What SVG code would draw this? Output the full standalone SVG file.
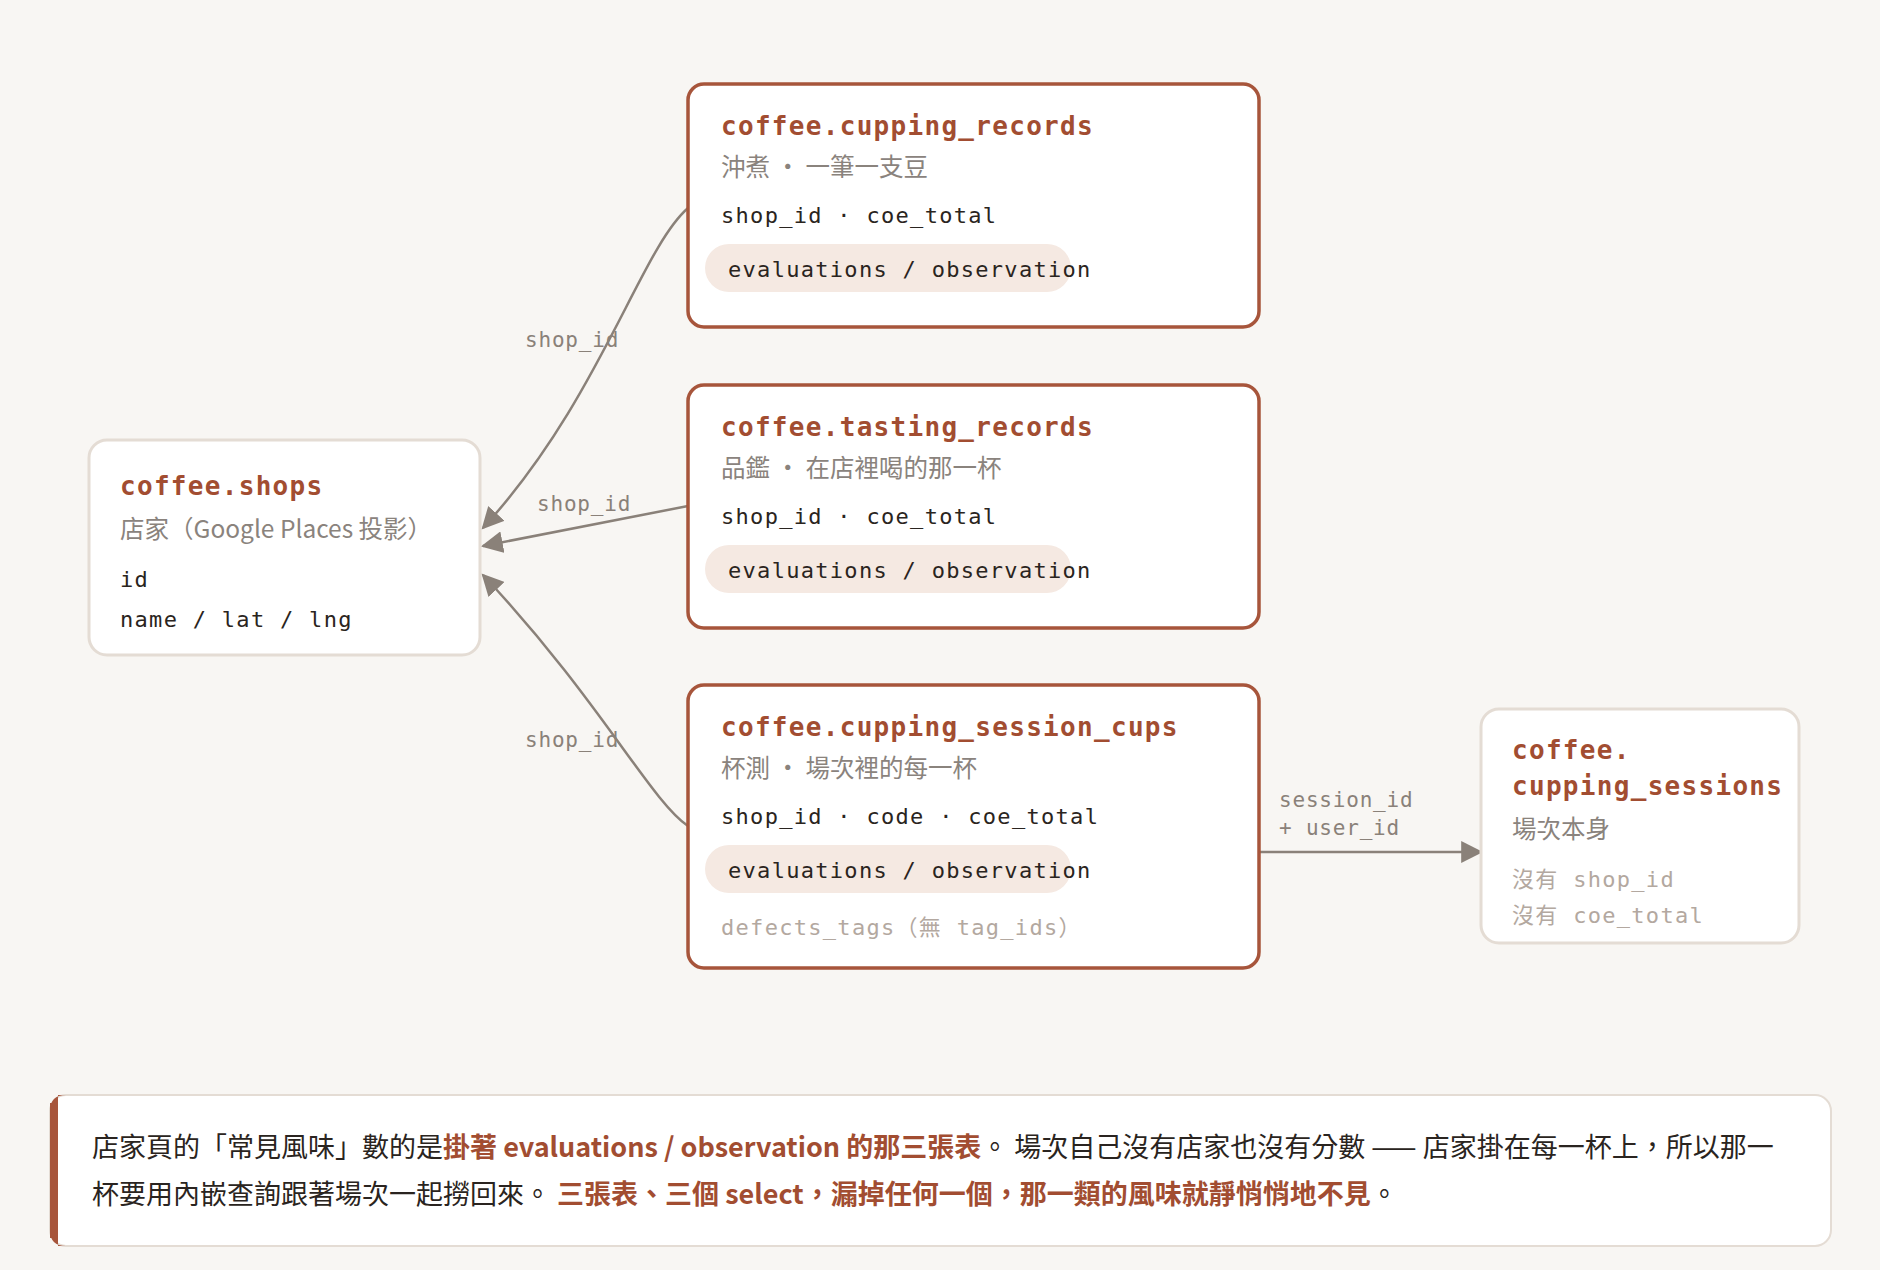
<svg xmlns="http://www.w3.org/2000/svg" width="1880" height="1270" viewBox="0 0 1880 1270">
<style>
.bg{fill:#f8f6f3}
.nb{fill:#fff;stroke:#a7553b;stroke-width:3.5}
.nl{fill:#fff;stroke:#e4dcd4;stroke-width:3}
.pill{fill:#f5e9e2}
.t{font-family:"DejaVu Sans Mono","Liberation Mono",monospace;font-weight:bold;font-size:26px;letter-spacing:1.3px;fill:#a24d31}
.s{font-family:"Noto Sans CJK TC","Noto Sans",sans-serif;font-size:24.5px;fill:#8a837d}
.f{font-family:"DejaVu Sans Mono","Liberation Mono",monospace;font-size:22px;letter-spacing:1.3px;fill:#2a2420}
.g{font-family:"DejaVu Sans Mono","Noto Sans CJK TC",monospace;font-size:22px;letter-spacing:1.3px;fill:#b3a8a0}
.e{fill:none;stroke:#8a8179;stroke-width:2.5}
.el{font-family:"DejaVu Sans Mono","Liberation Mono",monospace;font-size:21px;letter-spacing:0.8px;fill:#8a8179}
.n{font-family:"Noto Sans CJK TC","Noto Sans",sans-serif;font-size:27px;fill:#2a2420}
.h{fill:#a24d31;font-weight:bold}
</style>
<defs>
<marker id="b" viewBox="0 0 10 10" refX="9" refY="5" markerWidth="22" markerHeight="22" markerUnits="userSpaceOnUse" orient="auto"><path d="M0,0L10,5L0,10z" fill="#8a8179"/></marker>
</defs>
<rect class="bg" width="1880" height="1270"/>
<g id="connectors">
<path class="e" d="M688,208 C640,250 600,400 483,528" marker-end="url(#b)"/>
<path class="e" d="M688,506 L483,546" marker-end="url(#b)"/>
<path class="e" d="M688,826 C650,800 600,700 483,575" marker-end="url(#b)"/>
<path class="e" d="M1259,852 L1481,852" marker-end="url(#b)"/>
<text class="el" x="525" y="347">shop_id</text>
<text class="el" x="537" y="511">shop_id</text>
<text class="el" x="525" y="747">shop_id</text>
<text class="el" x="1279" y="807">session_id</text>
<text class="el" x="1279" y="835">+ user_id</text>
</g>
<g id="cupping_records">
<rect class="nb" x="688" y="84" width="571" height="243" rx="16"/>
<text class="t" x="721" y="135">coffee.cupping_records</text>
<text class="s" x="721" y="176">沖煮 ・ 一筆一支豆</text>
<text class="f" x="721" y="223">shop_id · coe_total</text>
<rect class="pill" x="705" y="244" width="366" height="48" rx="24"/>
<text class="f" x="728" y="277">evaluations / observation</text>
</g>
<g id="tasting_records">
<rect class="nb" x="688" y="385" width="571" height="243" rx="16"/>
<text class="t" x="721" y="436">coffee.tasting_records</text>
<text class="s" x="721" y="477">品鑑 ・ 在店裡喝的那一杯</text>
<text class="f" x="721" y="524">shop_id · coe_total</text>
<rect class="pill" x="705" y="545" width="366" height="48" rx="24"/>
<text class="f" x="728" y="578">evaluations / observation</text>
</g>
<g id="cupping_session_cups">
<rect class="nb" x="688" y="685" width="571" height="283" rx="16"/>
<text class="t" x="721" y="736">coffee.cupping_session_cups</text>
<text class="s" x="721" y="777">杯測 ・ 場次裡的每一杯</text>
<text class="f" x="721" y="824">shop_id · code · coe_total</text>
<rect class="pill" x="705" y="845" width="366" height="48" rx="24"/>
<text class="f" x="728" y="878">evaluations / observation</text>
<text class="g" x="721" y="935">defects_tags（無 tag_ids）</text>
</g>
<g id="shops">
<rect class="nl" x="89" y="440" width="391" height="215" rx="18"/>
<text class="t" x="120" y="495">coffee.shops</text>
<text class="s" x="120" y="538">店家（Google Places 投影）</text>
<text class="f" x="120" y="587">id</text>
<text class="f" x="120" y="627">name / lat / lng</text>
</g>
<g id="cupping_sessions">
<rect class="nl" x="1481" y="709" width="318" height="234" rx="18"/>
<text class="t" x="1512" y="759">coffee.</text>
<text class="t" x="1512" y="795">cupping_sessions</text>
<text class="s" x="1512" y="838">場次本身</text>
<text class="g" x="1512" y="887">沒有 shop_id</text>
<text class="g" x="1512" y="923">沒有 coe_total</text>
</g>
<g id="note">
<rect x="50" y="1095" width="1781" height="151" rx="16" fill="#fff" stroke="#e4dcd4" stroke-width="2"/>
<path d="M66,1095 Q50,1095 50,1111 L50,1230 Q50,1246 66,1246 L58,1246 L58,1095 Z" fill="#a7553b"/>
<rect x="50" y="1103" width="8" height="135" fill="#a7553b"/>
<text class="n" x="92" y="1157">店家頁的「常見風味」數的是<tspan class="h">掛著 evaluations / observation 的那三張表</tspan>。 場次自己沒有店家也沒有分數 —— 店家掛在每一杯上，所以那一</text>
<text class="n" x="92" y="1204">杯要用內嵌查詢跟著場次一起撈回來。 <tspan class="h">三張表、三個 select，漏掉任何一個，那一類的風味就靜悄悄地不見</tspan>。</text>
</g>
</svg>
